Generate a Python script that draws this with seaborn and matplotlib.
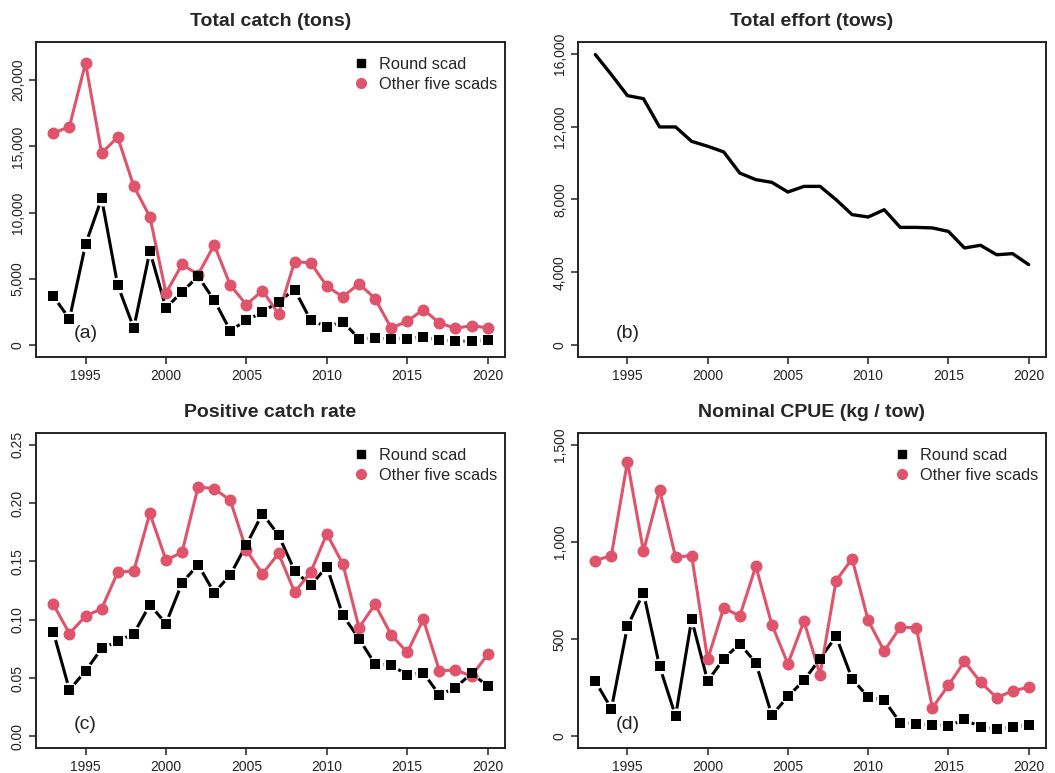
import numpy as np
import pandas as pd
import matplotlib
matplotlib.use("Agg")
import matplotlib.pyplot as plt
import matplotlib.transforms as mtransforms
from matplotlib.lines import Line2D
from matplotlib.ticker import FuncFormatter
import seaborn as sns

years = list(range(1993, 2021))

catch_round = [3700, 1990, 7610, 11080, 4530, 1310, 7100, 2820, 4030, 5200, 3400, 1110, 1890, 2490,
               3300, 4200, 1890, 1390, 1790, 500, 530, 480, 500, 630, 380, 330, 300, 380]
catch_other = [16000, 16500, 21300, 14500, 15700, 12000, 9700, 3950, 6100, 5340, 7580, 4530, 3070, 4130,
               2370, 6320, 6220, 4460, 3650, 4660, 3530, 1310, 1810, 2700, 1690, 1280, 1490, 1310]

effort = [15950, 14850, 13700, 13530, 11980, 11980, 11190, 10920, 10610, 9450, 9090, 8940, 8410, 8720,
          8720, 7990, 7170, 7040, 7440, 6470, 6470, 6440, 6250, 5340, 5490, 4970, 5030, 4430]

pos_round = [0.0892, 0.0398, 0.0560, 0.0753, 0.0815, 0.0881, 0.1128, 0.0966, 0.1315, 0.1472, 0.1230,
             0.1384, 0.1642, 0.1909, 0.1724, 0.1420, 0.1293, 0.1455, 0.1037, 0.0838, 0.0619, 0.0611,
             0.0526, 0.0545, 0.0355, 0.0418, 0.0540, 0.0432]
pos_other = [0.1131, 0.0881, 0.1031, 0.1094, 0.1406, 0.1418, 0.1912, 0.1511, 0.1577, 0.2139, 0.2122,
             0.2023, 0.1597, 0.1392, 0.1568, 0.1236, 0.1406, 0.1736, 0.1477, 0.0932, 0.1131, 0.0872,
             0.0719, 0.1003, 0.0563, 0.0568, 0.0517, 0.0702]

cpue_round = [283, 142, 565, 738, 361, 104, 601, 284, 399, 476, 378, 108, 205, 288, 399, 514, 296, 202,
              185, 70, 62, 58, 53, 87, 48, 36, 48, 57]
cpue_other = [904, 930, 1413, 952, 1269, 921, 930, 396, 661, 618, 875, 574, 373, 592, 317, 801, 913, 596,
              438, 562, 558, 147, 262, 385, 279, 199, 233, 253]

series_names = ["Round scad", "Other five scads"]
titles = ["Total catch (tons)", "Total effort (tows)", "Positive catch rate", "Nominal CPUE (kg / tow)"]
panel_labels = ["(a)", "(b)", "(c)", "(d)"]
x_ticks = [1995, 2000, 2005, 2010, 2015, 2020]

RED = "#DF536B"
BLACK = "#000000"

sns.set_style("ticks")
plt.rcParams["font.family"] = ["Liberation Sans", "DejaVu Sans"]

W, H = 1055, 773
fig = plt.figure(figsize=(W / 100, H / 100), dpi=100)
fig.patch.set_facecolor("white")


def make_ax(left, right, top, bottom):
    return fig.add_axes([left / W, 1 - bottom / H, (right - left) / W, (bottom - top) / H])


ax_a = make_ax(36, 505, 42, 357)
ax_b = make_ax(578, 1046, 42, 357)
ax_c = make_ax(36, 505, 433, 748)
ax_d = make_ax(578, 1046, 433, 748)


def two_series(ax, r, o):
    # black line with gaps around the points (R type="b" look)
    sns.lineplot(x=years, y=r, ax=ax, color=BLACK, linewidth=2.2, zorder=2.0)
    sns.scatterplot(x=years, y=r, ax=ax, color="white", marker="o", s=11.5 ** 2,
                    linewidth=0, zorder=2.1)
    # red: connected line with circles
    sns.lineplot(x=years, y=o, ax=ax, color=RED, marker="o", markersize=8.6,
                 markeredgewidth=0, linewidth=2.2, zorder=2.2)
    # black squares on top
    sns.scatterplot(x=years, y=r, ax=ax, color=BLACK, marker="s", s=7.4 ** 2,
                    linewidth=0, zorder=2.3)
    handles = [Line2D([], [], linestyle="none", marker="s", color=BLACK, markersize=6),
               Line2D([], [], linestyle="none", marker="o", color=RED, markersize=7)]
    ax.legend(handles, series_names, loc="upper right", frameon=False, fontsize=11.8,
              handlelength=0.6, handletextpad=0.75, labelspacing=0.3,
              borderaxespad=0.3, borderpad=0.4, bbox_to_anchor=(1.007, 0.99))


two_series(ax_a, catch_round, catch_other)
sns.lineplot(x=years, y=effort, ax=ax_b, color=BLACK, linewidth=2.4)
two_series(ax_c, pos_round, pos_other)
two_series(ax_d, cpue_round, cpue_other)

comma = FuncFormatter(lambda v, p: f"{int(round(v)):,}")
specs = [
    (ax_a, (-880, 22880), [0, 5000, 10000, 15000, 20000], comma),
    (ax_b, (-640, 16640), [0, 4000, 8000, 12000, 16000], comma),
    (ax_c, (-0.01, 0.26), [0, 0.05, 0.10, 0.15, 0.20, 0.25], FuncFormatter(lambda v, p: f"{v:.2f}")),
    (ax_d, (-60, 1560), [0, 500, 1000, 1500], comma),
]

for i, (ax, ylim, yt, fmt) in enumerate(specs):
    ax.set_xlim(1991.92, 2021.08)
    ax.set_ylim(*ylim)
    ax.set_xticks(x_ticks)
    ax.set_yticks(yt)
    ax.yaxis.set_major_formatter(fmt)
    ax.set_xlabel("")
    ax.set_ylabel("")
    for s in ax.spines.values():
        s.set_visible(True)
        s.set_linewidth(1.4)
        s.set_color("#222222")
        s.set_zorder(3)
    ax.tick_params(axis="both", direction="out", length=5, width=1.1, labelsize=10,
                   colors="#222222", labelcolor="#222222")
    ax.tick_params(axis="x", pad=3.5)
    ax.tick_params(axis="y", pad=3, labelrotation=90)
    for lab in ax.get_yticklabels():
        lab.set_va("center")
    ax.set_title(titles[i], fontsize=14, fontweight="bold", pad=11.5)
    trans = mtransforms.blended_transform_factory(ax.transData, ax.transAxes)
    ax.text(1995, 0.075, panel_labels[i], transform=trans, ha="center", va="center",
            fontsize=14, color="#222222")

fig.savefig("out.png", dpi=100)
